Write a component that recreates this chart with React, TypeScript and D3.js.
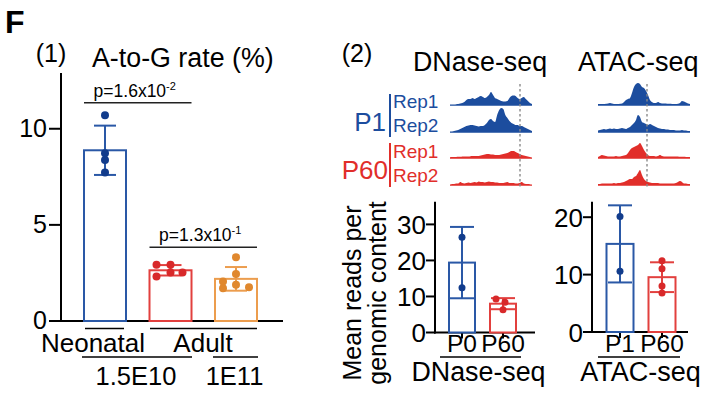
import React from "react";
import * as d3 from "d3";

// ---------- Panel 1 data ----------
const rateGroups = ["Neonatal", "Adult 1.5E10", "Adult 1E11"];
const ratePoints = [
  [10.7, 8.72, 8.38, 7.72],
  [2.92, 2.92, 2.31, 2.52, 2.52],
  [3.32, 2.45, 2.05, 1.7, 1.88, 1.75],
];
const rateTicks = [0, 5, 10];
const pLabels = ["p=1.6x10", "p=1.3x10"];
const pExps = ["-2", "-1"];

// ---------- Panel 2 data ----------
const dnaseGroups = ["P0", "P60"];
const dnasePoints = [
  [26.4, 12.4],
  [9.3, 8.4, 6.3],
];
const dnaseTicks = [0, 10, 20, 30];
const atacGroups = ["P1", "P60"];
const atacPoints = [
  [20.1, 10.6],
  [12.4, 11.0, 8.0, 6.8],
];
const atacTicks = [0, 10, 20];

// genome-browser style tracks (signal heights)
const dnaseP1Rep1 = [0.5,0.5,0.5,0.8,1,1.5,2,3,5,6,6,7,6,7,8,9,8,7,8,10,13,10,7,6,5,4,3.5,3.5,4,7,9,9.5,9,7,6,7,8,6,4,2,1];
const dnaseP1Rep2 = [0.5,0.5,1,1.5,2,3,4,5,6,6.5,7,7,6.5,6,5.5,6,6,7,9,12,13,11,10,17,22,24,23,17,14,11,9,8,7,7,6,6,5,4,3,2,1];
const dnaseP60Rep1 = [0.8,1,1,1,1.2,1.2,1.5,1.5,1.5,1.5,1.8,2,2,2,2,2.5,3,3.5,4,4,3.5,3.5,3,3,3,3.5,4,4.5,5,6,7,7,6,5,4,3,2.5,2,1.5,1,0.5];
const dnaseP60Rep2 = [0.5,1,1,1.5,1.5,3,2,1.5,2,2.5,2,2.5,3,2.5,3.5,3,3,2.5,3,3.5,3,3,2.5,2.5,2,2,2,2.5,3,2,2,2,1.5,1.5,2,3,1.5,1,1,0.8,0.5];
const atacP1Rep1 = [1,1,1,1,1.2,1.5,2,1.5,1,1,1,1.2,1.5,3,5,6,7,12,18,21,22,21,18,17,14,10,5,3,2,2,3,2,1.5,1.5,1.5,1.2,1.2,1,1,1,1.2,2,4,3.5,2.5,1.5,1];
const atacP1Rep2 = [1.5,2,2.5,3,2.5,3,3.5,3,3.5,3,3,3.5,4,3.5,3,4,5,7,9,12,17,15,10,9,8,7,8,7,6,5,4,3.5,3,3,2.5,2.5,2,2,2,1.5,1.5,1.5,2,1.5,1.5,1,1];
const atacP60Rep1 = [1,2,3,2.5,2,1.5,1.5,1.5,1.5,2,1.5,1.5,2,2.5,3,5,8,10,11,12,13,15,12,8,5,3,2,2,2,1.5,2,3,2,1.5,1.5,1.5,1.5,1.5,1.5,1.5,1.5,1.2,1.2,1.2,1,1,1];
const atacP60Rep2 = [1,1,1.5,1.5,1.5,1.5,1.5,1.5,2,1.5,2,2,2.5,3,4,5,6,6,8,9,12,15,10,6,4,3,2.5,2,2,2,2,1.5,1.5,1.5,1.5,1.5,1.5,1.5,1.5,2,3,4,3,1.5,1.5,1,1];

const FONT = "Liberation Sans, Arial, Helvetica, sans-serif";
const BLUE = "#2a58a6";
const BLUE_PT = "#123c8c";
const RED = "#e2403e";
const RED_PT = "#d8292a";
const ORANGE = "#ec9d4e";
const ORANGE_PT = "#e0882e";
const TRACK_BLUE = "#1c4d9e";
const TRACK_RED = "#e12e2a";

type BarProps = {
  cx: number; w: number; pts: number[]; y: d3.ScaleLinear<number, number>;
  stroke: string; ptColor: string; r: number; cap: number; jitter?: number[];
};

function BarGroup({ cx, w, pts, y, stroke, ptColor, r, cap, jitter }: BarProps) {
  const m = d3.mean(pts) as number;
  const sd = (d3.deviation(pts) as number) || 0;
  const y0 = y(0);
  return (
    <g>
      <rect x={cx - w / 2} y={y(m)} width={w} height={y0 - y(m)} fill="white" stroke={stroke} strokeWidth={2} />
      <line x1={cx} x2={cx} y1={y(m + sd)} y2={y(m - sd)} stroke={stroke} strokeWidth={2} />
      <line x1={cx - cap} x2={cx + cap} y1={y(m + sd)} y2={y(m + sd)} stroke={stroke} strokeWidth={2} />
      <line x1={cx - cap} x2={cx + cap} y1={y(m - sd)} y2={y(m - sd)} stroke={stroke} strokeWidth={2} />
      {pts.map((v, i) => (
        <circle key={i} cx={cx + (jitter ? jitter[i] || 0 : 0)} cy={y(v)} r={r} fill={ptColor} />
      ))}
    </g>
  );
}

function Track({ data, x0, x1, base, color }: { data: number[]; x0: number; x1: number; base: number; color: string }) {
  const xs = d3.scaleLinear().domain([0, data.length - 1]).range([x0, x1]);
  const ys = d3.scaleLinear().domain([0, 1]).range([base, base - 1]);
  const area = d3.area<number>()
    .x((_, i) => xs(i))
    .y0(base + 0.8)
    .y1((d) => ys(d))
    .curve(d3.curveMonotoneX);
  return <path d={area(data) || ""} fill={color} />;
}

export default function App() {
  // Panel 1 scales
  const y1 = d3.scaleLinear().domain([0, 12.9]).range([321, 73]);
  const x1 = d3.scalePoint<string>().domain(rateGroups).range([105, 236]);
  const ax1 = 61;
  const jitter1 = [
    [0, 0, 0, 0],
    [-14, 0, -14, 0, 12],
    [0, 0, -13, -13, 0, 13],
  ];
  const strokes1 = [BLUE, RED, ORANGE];
  const pts1 = [BLUE_PT, RED_PT, ORANGE_PT];

  // Panel 2 scales
  const yD = d3.scaleLinear().domain([0, 36.3]).range([332.5, 201.7]);
  const xD = d3.scalePoint<string>().domain(dnaseGroups).range([462, 503]);
  const axD = 435;
  const yA = d3.scaleLinear().domain([0, 22.7]).range([332, 201.7]);
  const xA = d3.scalePoint<string>().domain(atacGroups).range([620, 662]);
  const axA = 592;

  const tickFont = 26;

  return (
    <svg width={709} height={402} style={{ position: "absolute", left: 0, top: 0, background: "white" }} fontFamily={FONT}>
      <rect x={0} y={0} width={709} height={402} fill="white" />
      <text x={5} y={33} fontSize={32} fontWeight="bold">F</text>

      {/* ---------------- Panel 1 ---------------- */}
      <text x={51} y={62} fontSize={25} textAnchor="middle">(1)</text>
      <text x={92} y={67} fontSize={26.8}>A-to-G rate (%)</text>

      {/* axes */}
      <line x1={ax1} x2={ax1} y1={73} y2={y1(0) + 1} stroke="black" strokeWidth={2} />
      <line x1={ax1 - 1} x2={283} y1={y1(0)} y2={y1(0)} stroke="black" strokeWidth={2} />
      {rateTicks.map((t) => (
        <g key={t}>
          <line x1={ax1 - 12} x2={ax1} y1={y1(t)} y2={y1(t)} stroke="black" strokeWidth={2} />
          <text x={ax1 - 14} y={y1(t) + 8} fontSize={25} textAnchor="end">{t}</text>
        </g>
      ))}

      {rateGroups.map((g, i) => (
        <BarGroup key={g} cx={x1(g) as number} w={42} pts={ratePoints[i]} y={y1}
          stroke={strokes1[i]} ptColor={pts1[i]} r={4} cap={11} jitter={jitter1[i]} />
      ))}

      {/* significance */}
      {[0, 1].map((k) => {
        const gA = rateGroups[k];
        const gB = rateGroups[k + 1];
        const xa = (x1(gA) as number) - 21;
        const xb = (x1(gB) as number) + 21;
        const yy = k === 0 ? 102.7 : 247.3;
        const cx = (xa + xb) / 2 - 3;
        return (
          <g key={k}>
            <line x1={xa} x2={xb} y1={yy} y2={yy} stroke="#222" strokeWidth={1.6} />
            <text x={cx} y={yy - 6} fontSize={17.5} textAnchor="middle">
              {pLabels[k]}
              <tspan fontSize={11} dy={-7}>{pExps[k]}</tspan>
            </text>
          </g>
        );
      })}

      {/* x labels */}
      <line x1={85} x2={124} y1={328.5} y2={328.5} stroke="black" strokeWidth={1.6} />
      <line x1={150} x2={257} y1={328.5} y2={328.5} stroke="black" strokeWidth={1.6} />
      <text x={93} y={352} fontSize={26} textAnchor="middle">Neonatal</text>
      <text x={203} y={352} fontSize={26} textAnchor="middle">Adult</text>
      <line x1={82} x2={192} y1={357} y2={357} stroke="black" strokeWidth={1.6} />
      <line x1={213} x2={258} y1={357} y2={357} stroke="black" strokeWidth={1.6} />
      <text x={136} y={385} fontSize={25.5} textAnchor="middle">1.5E10</text>
      <text x={234.5} y={385} fontSize={25.5} textAnchor="middle">1E11</text>

      {/* ---------------- Panel 2 ---------------- */}
      <text x={357} y={62} fontSize={25} textAnchor="middle">(2)</text>
      <text x={413} y={71} fontSize={26.8}>DNase-seq</text>
      <text x={578} y={71} fontSize={27}>ATAC-seq</text>

      {/* track labels */}
      <text x={386} y={131} fontSize={26} textAnchor="end" fill={TRACK_BLUE}>P1</text>
      <line x1={390} x2={390} y1={94} y2={137} stroke={TRACK_BLUE} strokeWidth={2} />
      <text x={393} y={108} fontSize={19} fill={TRACK_BLUE}>Rep1</text>
      <text x={393} y={132} fontSize={19} fill={TRACK_BLUE}>Rep2</text>
      <text x={388} y={179} fontSize={26} textAnchor="end" fill={TRACK_RED}>P60</text>
      <line x1={390} x2={390} y1={143} y2={187} stroke={TRACK_RED} strokeWidth={2} />
      <text x={393} y={158} fontSize={19} fill={TRACK_RED}>Rep1</text>
      <text x={393} y={182} fontSize={19} fill={TRACK_RED}>Rep2</text>

      {/* tracks */}
      <Track data={dnaseP1Rep1} x0={450} x1={532} base={105} color={TRACK_BLUE} />
      <Track data={dnaseP1Rep2} x0={450} x1={532} base={132} color={TRACK_BLUE} />
      <Track data={dnaseP60Rep1} x0={450} x1={532} base={158} color={TRACK_RED} />
      <Track data={dnaseP60Rep2} x0={450} x1={532} base={185} color={TRACK_RED} />
      <Track data={atacP1Rep1} x0={598} x1={690} base={105} color={TRACK_BLUE} />
      <Track data={atacP1Rep2} x0={598} x1={690} base={132} color={TRACK_BLUE} />
      <Track data={atacP60Rep1} x0={598} x1={690} base={158} color={TRACK_RED} />
      <Track data={atacP60Rep2} x0={598} x1={690} base={185} color={TRACK_RED} />
      <line x1={520} x2={520} y1={84} y2={188} stroke="#8a8a8a" strokeWidth={1.4} strokeDasharray="2.5,2.5" />
      <line x1={647} x2={647} y1={84} y2={188} stroke="#8a8a8a" strokeWidth={1.4} strokeDasharray="2.5,2.5" />

      {/* y label */}
      <g transform="translate(361,293) rotate(-90)">
        <text x={0} y={0} fontSize={25} textAnchor="middle">Mean reads per</text>
      </g>
      <g transform="translate(386,293) rotate(-90)">
        <text x={0} y={0} fontSize={25} textAnchor="middle">genomic content</text>
      </g>

      {/* DNase bar chart */}
      <line x1={axD} x2={axD} y1={201.7} y2={yD(0) + 1} stroke="black" strokeWidth={2} />
      <line x1={axD - 1} x2={535} y1={yD(0)} y2={yD(0)} stroke="black" strokeWidth={2} />
      {dnaseTicks.map((t) => (
        <g key={t}>
          <line x1={axD - 9} x2={axD} y1={yD(t)} y2={yD(t)} stroke="black" strokeWidth={2} />
          <text x={axD - 9} y={yD(t) + 9.5} fontSize={tickFont} textAnchor="end">{t}</text>
        </g>
      ))}
      {dnaseGroups.map((g, i) => (
        <g key={g}>
          <line x1={xD(g) as number} x2={xD(g) as number} y1={yD(0)} y2={yD(0) + 6} stroke="black" strokeWidth={2} />
          <BarGroup cx={xD(g) as number} w={26} pts={dnasePoints[i]} y={yD}
            stroke={i === 0 ? BLUE : RED} ptColor={i === 0 ? BLUE_PT : RED_PT} r={3.5} cap={12}
            jitter={i === 0 ? [0, 0] : [-7, 2, 0]} />
          <text x={xD(g) as number} y={352} fontSize={24.5} textAnchor="middle">{g}</text>
        </g>
      ))}
      <line x1={440} x2={521} y1={357} y2={357} stroke="black" strokeWidth={1.6} />
      <text x={478.5} y={381} fontSize={26.8} textAnchor="middle">DNase-seq</text>

      {/* ATAC bar chart */}
      <line x1={axA} x2={axA} y1={201.7} y2={yA(0) + 1} stroke="black" strokeWidth={2} />
      <line x1={axA - 1} x2={688} y1={yA(0)} y2={yA(0)} stroke="black" strokeWidth={2} />
      {atacTicks.map((t) => (
        <g key={t}>
          <line x1={axA - 9} x2={axA} y1={yA(t)} y2={yA(t)} stroke="black" strokeWidth={2} />
          <text x={axA - 9} y={yA(t) + 9.5} fontSize={tickFont} textAnchor="end">{t}</text>
        </g>
      ))}
      {atacGroups.map((g, i) => (
        <g key={g}>
          <line x1={xA(g) as number} x2={xA(g) as number} y1={yA(0)} y2={yA(0) + 6} stroke="black" strokeWidth={2} />
          <BarGroup cx={xA(g) as number} w={27} pts={atacPoints[i]} y={yA}
            stroke={i === 0 ? BLUE : RED} ptColor={i === 0 ? BLUE_PT : RED_PT} r={3.5} cap={12} />
          <text x={xA(g) as number} y={352} fontSize={24.5} textAnchor="middle">{g}</text>
        </g>
      ))}
      <line x1={598} x2={680} y1={357} y2={357} stroke="black" strokeWidth={1.6} />
      <text x={640.5} y={381} fontSize={27} textAnchor="middle">ATAC-seq</text>
    </svg>
  );
}
